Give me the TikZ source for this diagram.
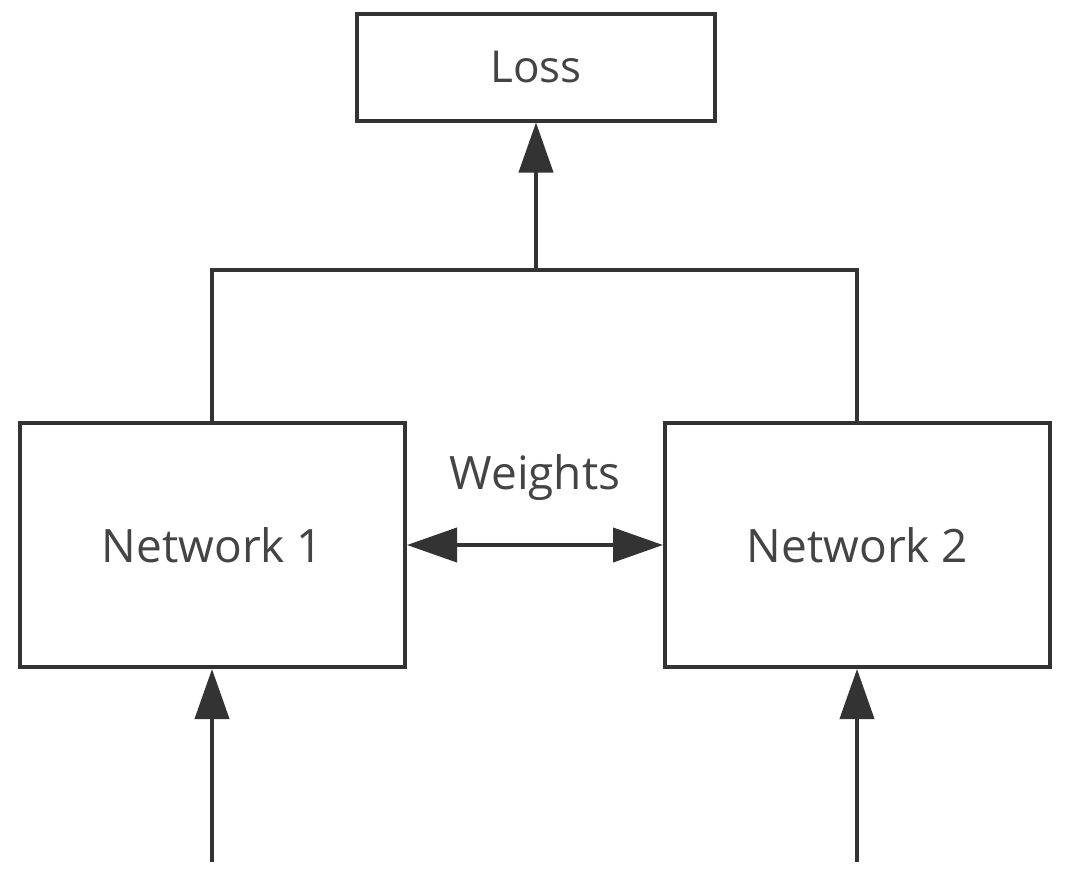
\documentclass[tikz,border=0pt]{standalone}
\usepackage{fontspec}
\setmainfont{Open Sans}
\usetikzlibrary{arrows.meta}
\definecolor{ink}{HTML}{333333}
\definecolor{txt}{HTML}{444444}
\begin{document}
\begin{tikzpicture}[x=1pt,y=-1pt,
  box/.style={draw=ink, line width=4pt, fill=white, inner sep=0pt,
    font=\fontsize{46}{54}\selectfont, text=txt},
  wire/.style={draw=ink, line width=4pt},
  head/.style={-{Triangle[length=50pt,width=34pt]}},
  twohead/.style={{Triangle[length=50pt,width=34pt]}-{Triangle[length=50pt,width=34pt]}}]
  \useasboundingbox (0,0) rectangle (1068,873);
  \fill[white] (0,0) rectangle (1068,873);

  % boxes
  \node[box, minimum width=358pt, minimum height=107pt,
        font=\fontsize{44}{52}\selectfont] (loss) at (536,67) {Loss};
  \node[box, minimum width=385pt, minimum height=244pt] (net1) at (212.5,545) {Network 1};
  \node[box, minimum width=385pt, minimum height=244pt] (net2) at (857.5,545) {Network 2};

  % merge junction above the networks
  \coordinate (join) at (536,270);
  \coordinate (l1) at (212,270);
  \coordinate (l2) at (857,270);
  \coordinate (in1) at (212,862);
  \coordinate (in2) at (857,862);

  \draw[wire] (net1.north -| l1) -- (l1) -- (l2) -- (net2.north -| l2);
  \draw[wire, head] (join) -- (loss.south);

  % shared weights
  \draw[wire, twohead] (net1.east) -- (net2.west);
  \node[font=\fontsize{46}{54}\selectfont, text=txt] (w) at (535,478) {Weights};

  % inputs
  \draw[wire, head] (in1) -- (net1.south -| in1);
  \draw[wire, head] (in2) -- (net2.south -| in2);
\end{tikzpicture}
\end{document}
